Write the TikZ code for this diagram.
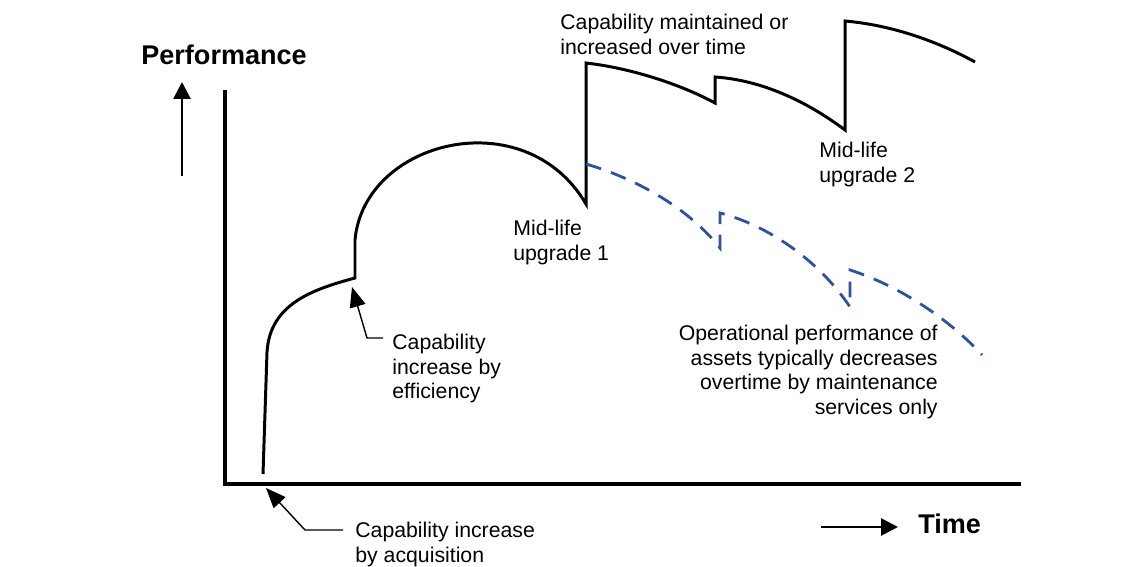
\documentclass[tikz,border=0pt]{standalone}
\usepackage{fontspec}
\setmainfont{Liberation Sans}
\usepackage{tikz}
\usetikzlibrary{arrows.meta}
\definecolor{bleutiret}{RGB}{47, 82, 160}

\begin{document}
\begin{tikzpicture}[x=0.02cm, y=-0.02cm,
    texte/.style={inner sep=0pt, font=\fontsize{12.1}{14}\selectfont},
    titre/.style={inner sep=0pt, font=\fontsize{15.4}{18}\selectfont\bfseries},
    courbe/.style={line width=1.7pt, line join=miter},
    fleche/.style={line width=0.8pt, -{Triangle[length=0.4cm, width=0.32cm]}},
    axefleche/.style={line width=1.6pt, -{Triangle[length=0.34cm, width=0.34cm]}}]
    \useasboundingbox (0,0) rectangle (1145,567);

    % axes
    \coordinate (ytop) at (225,90);
    \coordinate (origin) at (225,484);
    \coordinate (xend) at (1021,484);
    \draw[line width=2.2pt] (ytop) -- (origin) -- (xend);

    % titres des axes
    \node[titre, anchor=west] (perf) at (141,55) {Performance};
    \coordinate (perfbas) at (182,176);
    \coordinate (perfhaut) at (182,82);
    \draw[axefleche] (perfbas) -- (perfhaut);
    \node[titre, anchor=west] (temps) at (918,524) {Time};
    \coordinate (tempsgauche) at (821,527);
    \coordinate (tempsdroite) at (898,527);
    \draw[axefleche] (tempsgauche) -- (tempsdroite);

    % capacité avec mises à niveau
    \coordinate (acq) at (263,474);
    \coordinate (eff) at (355,278);
    \coordinate (up1) at (586,204);
    \coordinate (up2) at (845,130);
    \draw[courbe] (acq) -- (267,352) .. controls (270,305) and (310,290) .. (eff)
      -- (355,240) .. controls (364,140) and (525,100) .. (up1)
      -- (586,63) .. controls (630,68) and (680,84) .. (715,103)
      -- (715,77) .. controls (760,80) and (805,100) .. (up2)
      -- (845,21) .. controls (890,25) and (935,40) .. (975,62);

    % maintenance seule
    \draw[bleutiret, line width=1.6pt, dash pattern=on 9pt off 6pt]
      (586,164) .. controls (640,180) and (690,210) .. (720,248)
      -- (720,213) .. controls (770,226) and (820,262) .. (850,307)
      -- (850,270) .. controls (900,286) and (950,320) .. (982,355);

    % étiquettes
    \node[texte, anchor=north west, align=left] (maintenu) at (560,14)
      {Capability maintained or\\increased over time};
    \node[texte, anchor=north west, align=left] (ml1) at (513,220)
      {Mid-life\\upgrade 1};
    \node[texte, anchor=north west, align=left] (ml2) at (819,142)
      {Mid-life\\upgrade 2};
    \node[texte, anchor=north east, align=right] (oper) at (938,325)
      {Operational performance of\\assets typically decreases\\overtime by maintenance\\services only};
    \node[texte, anchor=north west, align=left] (efftxt) at (392,334)
      {Capability\\increase by\\efficiency};
    \node[texte, anchor=north west, align=left] (acqtxt) at (355,522)
      {Capability increase\\by acquisition};

    % flèches des étiquettes
    \coordinate (effpointe) at (352,287);
    \coordinate (acqpointe) at (266,488);
    \draw[fleche] ([shift={(-9,4)}]efftxt.north west) -- (367,338) -- (effpointe);
    \draw[fleche] ([shift={(-12,8)}]acqtxt.north west) -- (305,530) -- (acqpointe);
  \end{tikzpicture}
\end{document}
